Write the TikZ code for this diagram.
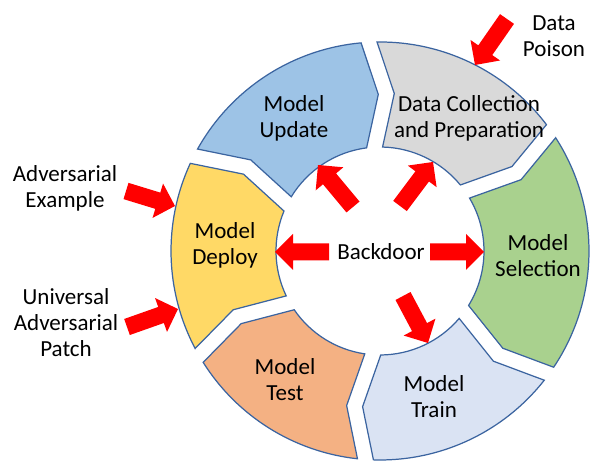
\documentclass[tikz,border=0pt]{standalone}
\usepackage{fontspec}
\setmainfont{Carlito}
\usetikzlibrary{calc}
\definecolor{cUpdate}{HTML}{9DC3E6}
\definecolor{cData}{HTML}{D9D9D9}
\definecolor{cSelect}{HTML}{A9D18E}
\definecolor{cTrain}{HTML}{DAE3F3}
\definecolor{cTest}{HTML}{F4B183}
\definecolor{cDeploy}{HTML}{FFD966}
\definecolor{cLine}{HTML}{3B64A0}
\definecolor{cArrow}{HTML}{FF0000}
\def\Ro{209}
\def\Ri{104}
\def\RoL{4.18cm}
\def\RiL{2.08cm}
\def\Rm{156.5}
\def\gapw{16}
\def\dd{14.5}
\newcommand\ringseg[3]{%
  \pgfmathsetmacro\aO{#1-\gapw/2/\Ro*180/pi}%
  \pgfmathsetmacro\bO{#2+\gapw/2/\Ro*180/pi}%
  \pgfmathsetmacro\aI{#1-\gapw/2/\Ri*180/pi}%
  \pgfmathsetmacro\bI{#2+\gapw/2/\Ri*180/pi}%
  \pgfmathsetmacro\tipo{\dd-\gapw/2}%
  \pgfmathsetmacro\noto{\dd+\gapw/2}%
  \path[segline,fill=#3] ($(C)+(\aO:\Ro)$) arc[start angle=\aO,end angle=\bO,radius=\RoL]
    -- ($(C)+(#2:\Rm)+(#2-90:\tipo)$) -- ($(C)+(\bI:\Ri)$)
    arc[start angle=\bI,end angle=\aI,radius=\RiL]
    -- ($(C)+(#1:\Rm)+(#1-90:\noto)$) -- cycle;
}
\newcommand\blockarrow[2]{%
  \fill[cArrow] ($(#1)!0.17cm!90:(#2)$) -- ($($(#2)!0.36cm!(#1)$)!0.17cm!-90:(#1)$)
    -- ($($(#2)!0.36cm!(#1)$)!0.36cm!-90:(#1)$) -- (#2)
    -- ($($(#2)!0.36cm!(#1)$)!0.36cm!90:(#1)$)
    -- ($($(#2)!0.36cm!(#1)$)!0.17cm!90:(#1)$)
    -- ($(#1)!0.17cm!-90:(#2)$) -- cycle;
}
\tikzset{
  segline/.style={draw=cLine,line width=0.7pt,line join=miter},
  lbl/.style={align=center,inner sep=0pt,font=\fontsize{13.1}{14.8}\selectfont,text=black},
}
\begin{document}
\begin{tikzpicture}[x=0.02cm,y=0.02cm]
\useasboundingbox[fill=white] (0,0) rectangle (598,462);
\coordinate (C) at (380,211);
% ring segments (clockwise flow)
\ringseg{93}{35}{cData}
\ringseg{35}{-36}{cSelect}
\ringseg{-36}{-94}{cTrain}
\ringseg{-94}{-150}{cTest}
\ringseg{210}{153}{cDeploy}
\ringseg{153}{93}{cUpdate}
% labels
\node[lbl] (update) at (294,344) {Model\\Update};
\node[lbl] (datacol) at (469,344) {Data Collection\\and Preparation};
\node[lbl] (select) at (538,206) {Model\\Selection};
\node[lbl] (train) at (434,65) {Model\\Train};
\node[lbl] (test) at (285,82) {Model\\Test};
\node[lbl] (deploy) at (225,217) {Model\\Deploy};
\node[lbl] (backdoor) at (381,210) {Backdoor};
\node[lbl] (poison) at (554,426) {Data\\Poison};
\node[lbl] (advex) at (65,274) {Adversarial\\Example};
\node[lbl] (uap) at (66,139) {Universal\\Adversarial\\Patch};
% arrow end points
\coordinate (bdL0) at (329,210);  \coordinate (bdL1) at (275,210);
\coordinate (bdR0) at (430,210);  \coordinate (bdR1) at (484,210);
\coordinate (bdUL0) at (353,255); \coordinate (bdUL1) at (318,297);
\coordinate (bdUR0) at (400,256); \coordinate (bdUR1) at (433,300);
\coordinate (bdDR0) at (403,166); \coordinate (bdDR1) at (428,119);
\coordinate (ae0) at (126,271);   \coordinate (ae1) at (175,256);
\coordinate (uap0) at (127,135);  \coordinate (uap1) at (178,153);
\coordinate (dp0) at (507,443);   \coordinate (dp1) at (475,397);
\blockarrow{bdL0}{bdL1}
\blockarrow{bdR0}{bdR1}
\blockarrow{bdUL0}{bdUL1}
\blockarrow{bdUR0}{bdUR1}
\blockarrow{bdDR0}{bdDR1}
\blockarrow{ae0}{ae1}
\blockarrow{uap0}{uap1}
\blockarrow{dp0}{dp1}
\end{tikzpicture}
\end{document}
